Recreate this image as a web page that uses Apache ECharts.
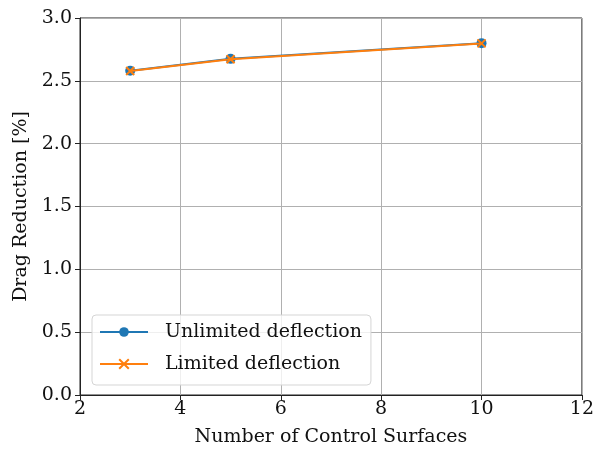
<!DOCTYPE html>
<html>
<head>
<meta charset="utf-8">
<script src="https://cdn.jsdelivr.net/npm/echarts@6/dist/echarts.min.js"></script>
<style>
  html, body { margin: 0; padding: 0; background: #fff; overflow: hidden; }
  #chart { width: 597px; height: 452px; }
</style>
</head>
<body>
<div id="chart"></div>
<script>
// Control surface counts and drag reduction (%) for the two deflection settings
const surfaceCounts = [3, 5, 10];
const unlimitedDeflection = [2.58, 2.675, 2.80];
const limitedDeflection = [2.578, 2.672, 2.798];
const xTicks = [2, 4, 6, 8, 10, 12];
const yTicks = [0.0, 0.5, 1.0, 1.5, 2.0, 2.5, 3.0];

const FONT = "'DejaVu Serif', 'Liberation Serif', serif";
const BLUE = '#1f77b4';
const ORANGE = '#ff7f0e';

const chart = echarts.init(document.getElementById('chart'), null, { renderer: 'canvas' });

const pairs = (xs, ys) => xs.map((x, i) => [x, ys[i]]);

chart.setOption({
  animation: false,
  backgroundColor: '#fff',
  textStyle: { fontFamily: FONT },
  grid: {
    left: 80, top: 18, right: 10, bottom: 56,
    show: true, borderColor: '#222', borderWidth: 1, backgroundColor: 'transparent'
  },
  legend: {
    left: 92, top: 315,
    orient: 'vertical',
    itemWidth: 48, itemHeight: 12, itemGap: 12,
    padding: [7, 9, 11, 7],
    backgroundColor: 'rgba(255,255,255,0.8)',
    borderColor: '#d5d5d5', borderWidth: 1, borderRadius: 4,
    textStyle: { fontFamily: FONT, fontSize: 19, lineHeight: 20, color: '#111', padding: [0, 0, 0, 12] },
    data: ['Unlimited deflection', 'Limited deflection']
  },
  xAxis: {
    type: 'value',
    min: xTicks[0], max: xTicks[xTicks.length - 1], interval: 2,
    name: 'Number of Control Surfaces',
    nameLocation: 'middle', nameGap: 33,
    nameTextStyle: { fontFamily: FONT, fontSize: 19, color: '#111' },
    axisLine: { show: true, lineStyle: { color: '#222', width: 1 } },
    axisTick: { show: true, length: 5, inside: false, lineStyle: { color: '#222' } },
    axisLabel: { fontFamily: FONT, fontSize: 19, color: '#111', margin: 5,
      formatter: v => String(v) },
    splitLine: { show: true, lineStyle: { color: '#b0b0b0', width: 1 } }
  },
  yAxis: {
    type: 'value',
    min: 0, max: 3, interval: 0.5,
    name: 'Drag Reduction [%]',
    nameLocation: 'middle', nameGap: 44,
    nameTextStyle: { fontFamily: FONT, fontSize: 19, color: '#111' },
    axisLine: { show: true, lineStyle: { color: '#222', width: 1 } },
    axisTick: { show: true, length: 5, inside: false, lineStyle: { color: '#222' } },
    axisLabel: { fontFamily: FONT, fontSize: 19, color: '#111', margin: 8,
      formatter: v => v.toFixed(1) },
    splitLine: { show: true, lineStyle: { color: '#b0b0b0', width: 1 } }
  },
  series: [
    {
      name: 'Unlimited deflection',
      type: 'line',
      data: pairs(surfaceCounts, unlimitedDeflection),
      symbol: 'circle', symbolSize: 10,
      itemStyle: { color: BLUE },
      lineStyle: { color: BLUE, width: 2 },
      z: 2
    },
    {
      name: 'Limited deflection',
      type: 'line',
      data: pairs(surfaceCounts, limitedDeflection),
      symbol: 'path://M0,0 L10,10 M10,0 L0,10',
      symbolSize: 8,
      itemStyle: { color: 'none', borderColor: ORANGE, borderWidth: 2 },
      lineStyle: { color: ORANGE, width: 2 },
      z: 3
    }
  ]
});
</script>
</body>
</html>
